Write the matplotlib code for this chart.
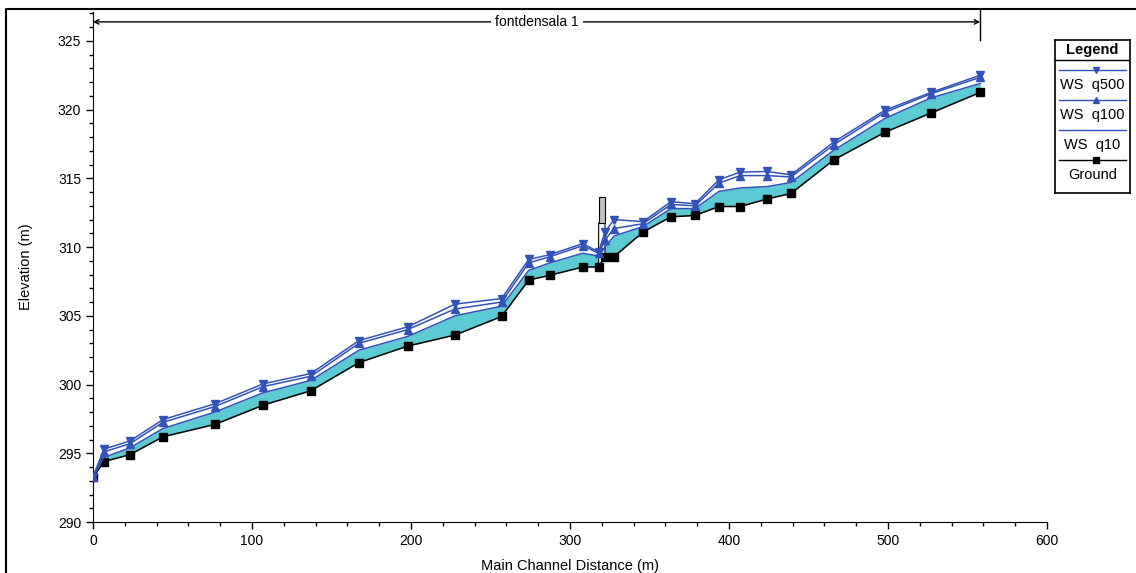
import matplotlib
matplotlib.use('Agg')
import matplotlib.pyplot as plt
from matplotlib.lines import Line2D
from matplotlib.patches import Rectangle, Polygon
from matplotlib.ticker import MultipleLocator

plt.rcParams['font.family'] = ['Liberation Sans', 'DejaVu Sans']

# ---- data ----
stations = [0, 6.9, 23.3, 44, 76.7, 107, 137, 167.3, 198, 227.7, 257, 274, 287.4,
            308, 318, 322, 327.7, 346, 363.5, 378.6, 393.7, 407, 424, 439, 466,
            498, 527, 558]
ground = [293.25, 294.4, 294.9, 296.2, 297.1, 298.5, 299.55, 301.6, 302.8, 303.6,
          304.95, 307.6, 307.95, 308.55, 308.55, 309.3, 309.3, 311.1, 312.2, 312.3,
          312.95, 312.95, 313.5, 313.9, 316.35, 318.35, 319.75, 321.25]
ws_q500 = [293.3, 295.3, 295.9, 297.45, 298.6, 300.05, 300.8, 303.2, 304.2, 305.85,
           306.25, 309.1, 309.45, 310.25, 309.65, 311.1, 312.0, 311.85, 313.3, 313.15,
           314.9, 315.45, 315.5, 315.25, 317.65, 319.95, 321.25, 322.5]
ws_q100 = [293.3, 295.1, 295.7, 297.25, 298.4, 299.85, 300.6, 303.0, 304.0, 305.5,
           306.0, 308.85, 309.3, 310.1, 309.55, 310.5, 311.35, 311.7, 313.1, 313.0,
           314.65, 315.2, 315.2, 315.1, 317.45, 319.8, 321.15, 322.35]
ws_q10 = [293.3, 294.7, 295.4, 296.8, 298.0, 299.4, 300.3, 302.5, 303.5, 305.0,
          305.7, 308.3, 308.85, 309.55, 309.35, 310.0, 310.8, 311.5, 312.8, 312.8,
          314.05, 314.3, 314.4, 314.7, 317.05, 319.35, 320.85, 321.9]

bridge_stations = [318, 322]
bridge_high_chord = 313.65
bridge_low_chord = 311.75
reach_name = 'fontdensala 1'
legend_labels = ['WS  q500', 'WS  q100', 'WS  q10', 'Ground']

BLUE = '#3352b8'
CYAN = '#5ccad2'

W, H = 1136, 573
fig = plt.figure(figsize=(W / 100, H / 100), dpi=100)
ax = fig.add_axes([93 / W, 1 - 522 / H, (1047 - 93) / W, (522 - 12) / H])
ax.set_xlim(0, 600)
ax.set_ylim(290, 327.1)
for s in ['top', 'right']:
    ax.spines[s].set_visible(False)
ax.xaxis.set_major_locator(MultipleLocator(100))
ax.xaxis.set_minor_locator(MultipleLocator(20))
ax.yaxis.set_major_locator(MultipleLocator(5))
ax.yaxis.set_minor_locator(MultipleLocator(1))
ax.tick_params(which='major', direction='out', length=5, width=1, labelsize=10)
ax.tick_params(which='minor', direction='out', length=3, width=1)

# water fill
ax.fill_between(stations, ground, ws_q10, color=CYAN, linewidth=0, zorder=1)

# bridge
i0 = stations.index(bridge_stations[0])
i1 = stations.index(bridge_stations[1])
opening = Polygon([(bridge_stations[0], bridge_low_chord), (bridge_stations[1], bridge_low_chord),
                   (bridge_stations[1], ground[i1]), (bridge_stations[0], ground[i0])],
                  closed=True, facecolor='white', edgecolor='black', lw=0.8, zorder=1.5)
ax.add_patch(opening)
deck = Rectangle((bridge_stations[0], bridge_low_chord), bridge_stations[1] - bridge_stations[0],
                 bridge_high_chord - bridge_low_chord, facecolor='#c0c0c0', edgecolor='black',
                 lw=0.8, zorder=4)
ax.add_patch(deck)

ax.plot(stations, ground, color='black', lw=1.1, marker='s', ms=5.5, zorder=2)
ax.plot(stations, ws_q10, color=BLUE, lw=1.1, zorder=3)
ax.plot(stations, ws_q100, color=BLUE, lw=1.1, marker='^', ms=5.5, zorder=3)
ax.plot(stations, ws_q500, color=BLUE, lw=1.1, marker='v', ms=5.5, zorder=3)

# reach annotation
y_arrow = 326.38
ax.annotate('', xy=(0, y_arrow), xytext=(stations[-1], y_arrow),
            arrowprops=dict(arrowstyle='<->', lw=1, color='black', shrinkA=0, shrinkB=0,
                            mutation_scale=8), annotation_clip=False)
ax.text(stations[-1] / 2, y_arrow, reach_name, ha='center', va='center', fontsize=10,
        bbox=dict(facecolor='white', edgecolor='none', pad=3), zorder=5)
ax.plot([stations[-1], stations[-1]], [325.05, 327.25], color='black', lw=1, clip_on=False)

ax.set_xlabel('Main Channel Distance (m)', fontsize=10.5, va='top')
ax.xaxis.set_label_coords(0.5, -(559 - 522) / 510)
ax.set_ylabel('Elevation (m)', fontsize=10.5)
ax.yaxis.set_label_coords((33 - 93) / 954, 0.5)

# legend box
lax = fig.add_axes([1055 / W, 1 - 193 / H, 75 / W, 153 / H])
lax.set_xlim(0, 75)
lax.set_ylim(153, 0)
lax.set_xticks([])
lax.set_yticks([])
for s in lax.spines.values():
    s.set_linewidth(1.2)
lax.text(37.5, 10, 'Legend', ha='center', va='center', fontsize=10.5, fontweight='bold')
lax.plot([0, 75], [20, 20], color='black', lw=1)
entries = [(BLUE, 'v'), (BLUE, '^'), (BLUE, None), ('black', 's')]
for k, ((c, m), lab) in enumerate(zip(entries, legend_labels)):
    yl = 30 + k * 30
    lax.plot([4, 71], [yl, yl], color=c, lw=1)
    if m:
        lax.plot([41], [yl], color=c, marker=m, ms=5)
    lax.text(37.5, yl + 15, lab, ha='center', va='center', fontsize=10.5)

# outer frame
fig.add_artist(Line2D([6 / W, 6 / W, 1], [0, 1 - 9 / H, 1 - 9 / H], transform=fig.transFigure,
                      color='black', lw=1.5))

fig.savefig('out.png', dpi=100)
